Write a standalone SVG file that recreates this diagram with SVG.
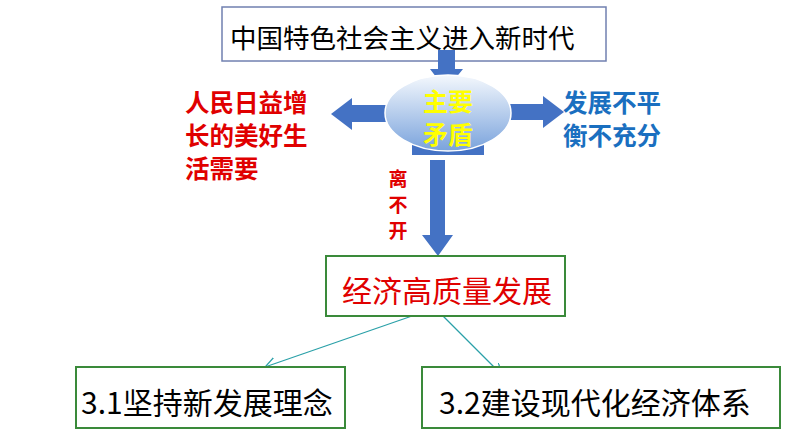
<svg xmlns="http://www.w3.org/2000/svg" width="794" height="447" viewBox="0 0 794 447">
<style>
.box{fill:#fff;stroke:#3a8a3a;stroke-width:2}
.arr{fill:#4472c4}
.t{font-family:"Noto Sans CJK SC",sans-serif}
.b{font-family:"Noto Sans CJK SC",sans-serif;font-weight:bold}
.ln{stroke:#2aa0a8;stroke-width:1.2;fill:none;marker-end:url(#m)}
</style>
<defs>
<linearGradient id="g" x1="0" y1="0" x2="0" y2="1"><stop offset="0" stop-color="#f4f8fd"/><stop offset="1" stop-color="#7aa3dc"/></linearGradient>
<marker id="m" markerUnits="userSpaceOnUse" markerWidth="14" markerHeight="14" refX="11" refY="6" orient="auto"><path d="M0,0 L11,6 L0,12" fill="none" stroke="#2aa0a8" stroke-width="1.2"/></marker>
</defs>
<g id="top"><rect x="222" y="7" width="384" height="54" fill="#fff" stroke="#7080b0" stroke-width="1.5"/><text class="t" x="230" y="48" font-size="26.5">中国特色社会主义进入新时代</text></g>
<g id="connectors">
<path class="arr" d="M438,50 H455 V69 H463 L446,90 L430,69 H438 Z"/>
<path class="arr" d="M390,105 H352 V98 L331,114 L352,130 V122 H390 Z"/>
<path class="arr" d="M505,104 H543 V96 L564,112 L543,128 V120 H505 Z"/>
<path class="arr" d="M430,160 H445 V235 H453 L438,256 L422,235 H430 Z"/>
<path class="ln" d="M412,316 L265,367"/>
<path class="ln" d="M443,316 L502,375"/>
</g>
<g id="core"><rect x="412" y="140" width="72" height="15" fill="#4472c4"/><ellipse cx="448" cy="113" rx="63" ry="38" fill="url(#g)" stroke="#fff" stroke-width="1.5"/>
<text class="b" x="448" y="111" font-size="25" fill="#ffff00" text-anchor="middle">主要</text><text class="b" x="448" y="144" font-size="25" fill="#ffff00" text-anchor="middle">矛盾</text></g>
<g id="left"><text class="b" font-size="24.5" fill="#e00000"><tspan x="185" y="112">人民日益增</tspan><tspan x="185" y="145">长的美好生</tspan><tspan x="185" y="178">活需要</tspan></text></g>
<g id="right"><text class="b" font-size="24.5" fill="#1a6fc0"><tspan x="563" y="112">发展不平</tspan><tspan x="563" y="145">衡不充分</tspan></text></g>
<g id="lbk"><text class="b" font-size="19" fill="#e00000" text-anchor="middle"><tspan x="398" y="186">离</tspan><tspan x="398" y="212">不</tspan><tspan x="398" y="238">开</tspan></text></g>
<g id="mid"><rect class="box" x="326" y="256" width="239" height="60"/><text class="t" x="342" y="302" font-size="30" fill="#e00000">经济高质量发展</text></g>
<g id="n31"><rect class="box" x="76" y="367" width="269" height="61"/><text class="t" x="81" y="414" font-size="30">3.1坚持新发展理念</text></g>
<g id="n32"><rect class="box" x="422" y="367" width="358" height="61"/><text class="t" x="439" y="414" font-size="30">3.2建设现代化经济体系</text></g>
</svg>
